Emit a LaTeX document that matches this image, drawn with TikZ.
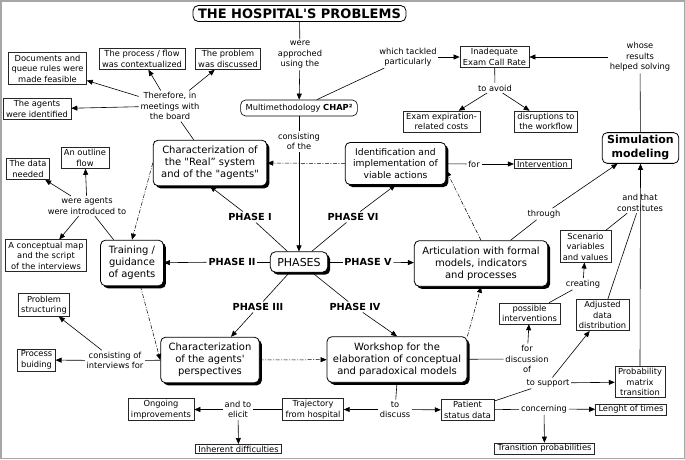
\documentclass[tikz,border=0pt]{standalone}
\usepackage{fontspec}
\setmainfont{DejaVu Sans}[Ligatures=TeXOff]
\usepackage{tikz}
\usetikzlibrary{arrows.meta}
\usetikzlibrary{shadows}

\tikzset{
  concept/.style={draw=black!85, line width=0.6pt, fill=white, align=center, inner xsep=3pt, inner ysep=2pt, font=\fontsize{8.3}{10.5}\selectfont},
  bigconcept/.style={draw, rounded corners=5pt, line width=0.8pt, fill=white, align=center, inner xsep=8pt, inner ysep=6pt, font=\fontsize{10}{12}\selectfont, drop shadow={shadow xshift=2.5pt, shadow yshift=-2.5pt, opacity=1, fill=black}},
  roundconcept/.style={draw, rounded corners=5pt, line width=0.8pt, fill=white, align=center, inner xsep=5pt, inner ysep=3pt},
  linking/.style={align=center, inner sep=1.5pt, font=\fontsize{8.3}{10.5}\selectfont},
  phase/.style={inner sep=1.5pt, font=\fontsize{9.7}{11}\selectfont\bfseries},
  dashdot/.style={dash pattern=on 4pt off 1.5pt on 1pt off 1.5pt, line width=0.5pt},
  >={Triangle[length=6pt,width=5pt]}
}

\begin{document}
\begin{tikzpicture}[x=1pt,y=-1pt,line width=0.6pt]
\useasboundingbox (0,0) rectangle (685,459);
\draw[gray!70, line width=1.5pt] (0.75,0.75) rectangle (684.25,458.25);

\node[roundconcept, font=\fontsize{13}{15}\selectfont\bfseries] (problems) at (299.5,13.5) {THE HOSPITAL'S PROBLEMS};
\node[linking] (approached) at (300,55) {were\\approched\\using the};
\node[roundconcept, line width=0.6pt, inner ysep=4pt, font=\fontsize{8.3}{10.5}\selectfont] (chap) at (299,108) {Multimethodology \textbf{CHAP²}};
\node[linking] (tackled) at (408,57) {which tackled\\particularly};
\node[concept] (callrate) at (494.5,57) {Inadequate\\Exam Call Rate};
\node[linking] (avoid) at (495,88) {to avoid};
\node[concept] (costs) at (441.5,121.5) {Exam expiration-\\related costs};
\node[concept] (disrupt) at (546,121.5) {disruptions to\\the workflow};
\node[linking] (whose) at (640,57) {whose\\results\\helped solving};
\node[roundconcept, font=\fontsize{11}{14}\selectfont\bfseries] (sim) at (640.5,148) {Simulation\\modeling};
\node[linking] (consisting) at (299,141.5) {consisting\\of the};

\node[linking] (meetings) at (170,106) {Therefore, in\\meetings with\\the board};
\node[concept] (documents) at (47.5,68.5) {Documents and\\queue rules were\\made feasible};
\node[concept] (flow) at (142,59) {The process / flow\\was contextualized};
\node[concept] (discussed) at (228,59) {The problem\\was discussed};
\node[concept] (identified) at (37,109) {The agents\\were identified};

\node[bigconcept] (real) at (210,163) {Characterization of\\the "Real” system\\and of the "agents"};
\node[bigconcept, font=\fontsize{9.2}{11.5}\selectfont] (ident) at (395.5,163.5) {Identification and\\implementation of\\viable actions};
\node[linking] (for) at (474,164) {for};
\node[concept, inner ysep=1.5pt] (intervention) at (542.5,164) {Intervention};

\node[concept] (dataneeded) at (28,169) {The data\\needed};
\node[concept] (outline) at (85,158) {An outline\\flow};
\node[linking] (introduced) at (87,206) {were agents\\were introduced to};
\node[concept] (cmap) at (46,255.5) {A conceptual map\\and the script\\of the interviews};
\node[bigconcept] (training) at (132,263) {Training /\\guidance\\of agents};

\node[bigconcept, inner xsep=7pt, font=\fontsize{11}{13}\selectfont] (phases) at (299,262) {PHASES};
\node[phase] (phaseone) at (250,217) {PHASE I};
\node[phase] (phasetwo) at (232,262) {PHASE II};
\node[phase] (phasethree) at (258,307) {PHASE III};
\node[phase] (phasefour) at (355,307) {PHASE IV};
\node[phase] (phasefive) at (368,262) {PHASE V};
\node[phase] (phasesix) at (353,217) {PHASE VI};

\node[bigconcept] (artic) at (481,263.5) {Articulation with formal\\models, indicators\\and processes};
\node[linking] (through) at (544,214) {through};
\node[concept] (scenario) at (585.5,246.5) {Scenario\\variables\\and values};
\node[linking] (constitutes) at (640,203) {and that\\constitutes};
\node[linking] (creating) at (583,284) {creating};
\node[concept] (possible) at (529.5,313.5) {possible\\interventions};
\node[concept] (adjusted) at (602.5,315) {Adjusted\\data\\distribution};
\node[linking] (discussion) at (527,359) {for\\discussion\\of};
\node[linking] (support) at (548,383) {to support};
\node[concept] (matrix) at (640,382) {Probability\\matrix\\transition};

\node[concept] (structuring) at (44,305) {Problem\\structuring};
\node[concept] (building) at (36.5,360) {Process\\buiding};
\node[linking] (interviews) at (115,360.5) {consisting of\\interviews for};
\node[bigconcept] (persp) at (210,360) {Characterization\\of the agents'\\perspectives};
\node[bigconcept, inner xsep=6pt] (workshop) at (397,359.5) {Workshop for the\\elaboration of conceptual\\and paradoxical models};

\node[concept] (ongoing) at (161,409.5) {Ongoing\\improvements};
\node[linking] (elicit) at (238,409.5) {and to\\elicit};
\node[concept, inner ysep=1.5pt] (inherent) at (238.5,449) {Inherent difficulties};
\node[concept] (trajectory) at (313,409.5) {Trajectory\\from hospital};
\node[linking] (discuss) at (395,409.5) {to\\discuss};
\node[concept] (patient) at (467.5,410) {Patient\\status data};
\node[linking] (concerning) at (544,409) {concerning};
\node[concept, inner ysep=1.5pt] (lenght) at (631,409.5) {Lenght of times};
\node[concept, inner ysep=1.5pt] (transprob) at (544.5,448.5) {Transition probabilities};

\draw[-] (problems) -- (approached);
\draw[->] (approached) -- (chap);
\draw[-] (chap) -- (tackled);
\draw[->] (tackled) -- (callrate);
\draw[-] (callrate) -- (avoid);
\draw[->] (avoid) -- (costs);
\draw[->] (avoid) -- (disrupt);
\draw[-] (sim) -- (whose);
\draw[->] (whose) -- (callrate);
\draw[-] (chap) -- (consisting);
\draw[->] (consisting) -- (phases);

\draw[-] (real) -- (meetings);
\draw[->] (meetings) -- (documents);
\draw[->] (meetings) -- (flow);
\draw[->] (meetings) -- (discussed);
\draw[->] (meetings) -- (identified);

\draw[-] (phases) -- (phaseone);
\draw[->] (phaseone) -- (real.south);
\draw[-] (phases) -- (phasetwo);
\draw[->] (phasetwo) -- (training);
\draw[-] (phases) -- (phasethree);
\draw[->] (phasethree) -- (persp);
\draw[-] (phases) -- (phasefour);
\draw[->] (phasefour) -- (workshop.north);
\draw[-] (phases) -- (phasefive);
\draw[->] (phasefive) -- (artic);
\draw[-] (phases) -- (phasesix);
\draw[->] (phasesix) -- (ident.south);

\draw[-] (ident) -- (for);
\draw[->] (for) -- (intervention);

\draw[->, dashdot] (ident) -- (real);
\draw[->, dashdot] (real.west) -- (training.north);
\draw[->, dashdot] (training.290) -- (persp.west);
\draw[->, dashdot] (persp) -- (workshop);
\draw[->, dashdot] (workshop.north east) -- (artic.south);
\draw[->, dashdot] (artic.north) -- (ident.-8);

\draw[-] (training) -- (introduced);
\draw[->] (introduced) -- (dataneeded);
\draw[->] (introduced) -- (outline);
\draw[->] (introduced) -- (cmap);

\draw[-] (persp) -- (interviews);
\draw[->] (interviews) -- (structuring);
\draw[->] (interviews) -- (building);

\draw[-] (workshop.south) -- (discuss);
\draw[->] (discuss) -- (trajectory);
\draw[->] (discuss) -- (patient);
\draw[-] (trajectory) -- (elicit);
\draw[->] (elicit) -- (ongoing);
\draw[->] (elicit) -- (inherent);

\draw[-] (patient) -- (concerning);
\draw[->] (concerning) -- (lenght);
\draw[->] (concerning) -- (transprob);
\draw[-] (patient) -- (support);
\draw[->] (support) -- (matrix);
\draw[->] (support) -- (adjusted);

\draw[-] (workshop) -- (discussion);
\draw[->] (discussion) -- (possible);
\draw[-] (possible) -- (creating);
\draw[->] (creating) -- (scenario);

\draw[-] (scenario) -- (constitutes);
\draw[-] (adjusted) -- (constitutes);
\draw[->] (matrix.north) -- (sim.south);

\draw[-] (artic) -- (through);
\draw[->] (through) -- (sim);
\end{tikzpicture}
\end{document}
